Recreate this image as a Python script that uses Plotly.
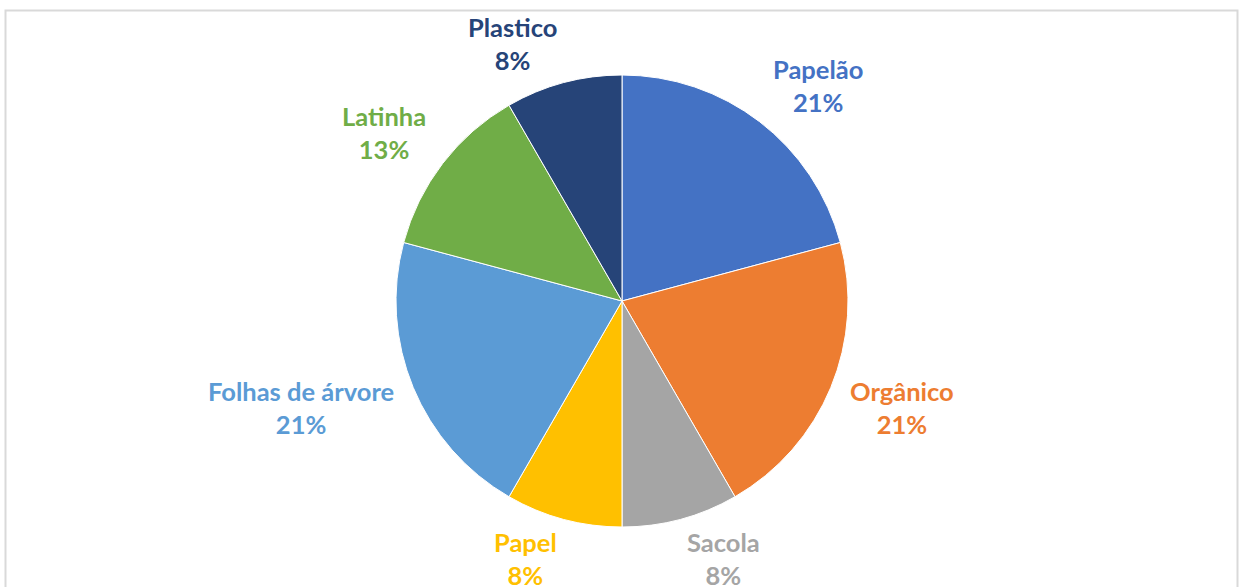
import math
import plotly.graph_objects as go

categories = ["Papelão", "Orgânico", "Sacola", "Papel", "Folhas de árvore", "Latinha", "Plastico"]
values = [5, 5, 2, 2, 5, 3, 2]
colors = ["#4472C4", "#ED7D31", "#A5A5A5", "#FFC000", "#5B9BD5", "#70AD47", "#264478"]

W, H = 1241, 587
CX, CY, R = 622, 301, 226
FONT = "Lato"
FS = 25.5
D = R + 19

fig = go.Figure()
fig.add_trace(go.Pie(
    labels=categories, values=values, sort=False, direction="clockwise", rotation=0,
    marker=dict(colors=colors, line=dict(color="white", width=1)),
    textinfo="none", hoverinfo="label+percent", showlegend=False,
    domain=dict(x=[(CX - R) / W, (CX + R) / W], y=[1 - (CY + R) / H, 1 - (CY - R) / H]),
))

total = sum(values)
cum = 0
for name, v, c in zip(categories, values, colors):
    mid = (cum + v / 2) / total * 2 * math.pi
    cum += v
    pct = f"{int(math.floor(v / total * 100 + 0.5))}%"
    ux, uy = math.sin(mid), -math.cos(mid)
    px = CX + D * ux
    py = CY + D * uy + max(-21.0, min(21.0, 32 * uy))
    fig.add_annotation(
        x=px / W, y=1 - py / H, xref="paper", yref="paper",
        text=f"<b>{name}</b><br><b>{pct}</b>", showarrow=False,
        xanchor="left" if ux > 0 else "right", yanchor="middle", align="center",
        font=dict(family=FONT, size=FS, color=c),
    )

fig.add_shape(type="rect", xref="paper", yref="paper",
              x0=5.5 / W, x1=1237.5 / W, y0=-0.05, y1=1 - 10.5 / H,
              line=dict(color="#D9D9D9", width=2), fillcolor="rgba(0,0,0,0)")

fig.update_layout(
    width=W, height=H, margin=dict(l=0, r=0, t=0, b=0),
    paper_bgcolor="white", plot_bgcolor="white",
)
fig.write_html("out.html")
